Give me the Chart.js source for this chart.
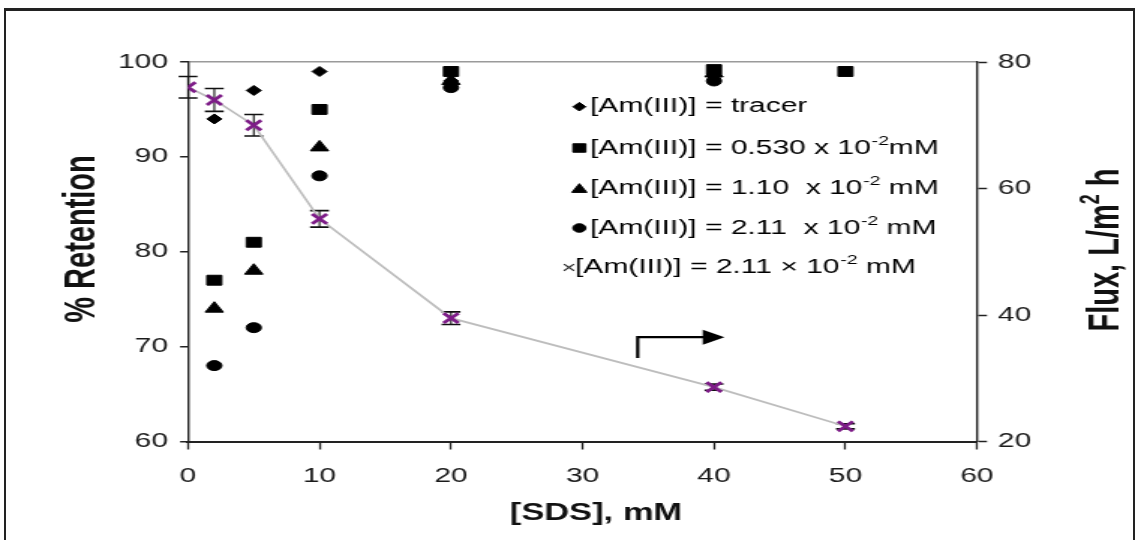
<!DOCTYPE html>
<html><head><meta charset="utf-8">
<script src="https://cdn.jsdelivr.net/npm/chart.js@4.4.0/dist/chart.umd.min.js"></script>
<style>
html,body{margin:0;padding:0;background:#fff;width:1138px;height:540px;overflow:hidden;}
#frame{position:absolute;left:4px;top:8px;width:1131px;height:600px;border-left:2px solid #222;border-top:3px solid #222;border-right:2px solid #222;box-sizing:border-box;}
#wrap{position:absolute;left:0;top:0;transform-origin:0 0;transform:scaleX(1.4993);}
</style></head><body>
<div id="frame"></div>
<div id="wrap"><canvas id="c" width="759" height="540"></canvas></div>
<script>
// ---------- data ----------
const sdsRet = [2, 5, 10, 20, 40];
const sdsRetLow = [2, 5, 10, 20, 40, 50];
const retTracer = [94, 97, 99, 98, 98.5];
const retLow = [77, 81, 95, 99, 99.2, 99];
const retMid = [74, 78, 91, 98, 98.8];
const retHigh = [68, 72, 88, 97.3, 98];
const sdsFlux = [0, 2, 5, 10, 20, 40, 50];
const flux = [76, 74, 70, 55.2, 39.5, 28.6, 22.4];
const fluxErr = [1.7, 1.8, 1.7, 1.3, 1.0, 0.5, 0.4];
const xTicks = [0, 10, 20, 30, 40, 50, 60];
const retTicks = [60, 70, 80, 90, 100];
const fluxTicks = [20, 40, 60, 80];
const arrowPath = [[34.2, 33.2], [34.2, 36.5], [40.8, 36.5]];
const legendRows = [
  ['rectRot', '[Am(III)] = tracer', '', ''],
  ['rect', '[Am(III)] = 0.530 x 10', '-2', 'mM'],
  ['triangle', '[Am(III)] = 1.10  x 10', '-2', ' mM'],
  ['circle', '[Am(III)] = 2.11  x 10', '-2', ' mM'],
  ['×', '[Am(III)] = 2.11 × 10', '-2', ' mM']
];
const xTitle = '[SDS], mM';
const yTitle = '% Retention';
const y1Title = ['Flux, L/m', '2', ' h'];

// ---------- chart ----------
const FAM = "'Liberation Sans', Arial, sans-serif";
Chart.defaults.font.family = FAM;
const pts = (xs, ys) => xs.map((x, i) => ({x: x, y: ys[i]}));

const extras = {
  id: 'extras',
  beforeDatasetsDraw(chart) {
    const ctx = chart.ctx, xs = chart.scales.x, y1 = chart.scales.y1;
    ctx.save();
    ctx.strokeStyle = '#111';
    sdsFlux.forEach((x, i) => {
      const px = xs.getPixelForValue(x);
      const t = y1.getPixelForValue(flux[i] + fluxErr[i]);
      const b = y1.getPixelForValue(flux[i] - fluxErr[i]);
      ctx.lineWidth = 1.1;
      ctx.beginPath(); ctx.moveTo(px, t); ctx.lineTo(px, b); ctx.stroke();
      ctx.lineWidth = 1.6;
      ctx.beginPath();
      ctx.moveTo(px - 6.3, t); ctx.lineTo(px + 6.3, t);
      ctx.moveTo(px - 6.3, b); ctx.lineTo(px + 6.3, b);
      ctx.stroke();
    });
    ctx.restore();
  },
  afterDatasetsDraw(chart) {
    const ctx = chart.ctx, xs = chart.scales.x, y1 = chart.scales.y1;
    const p = arrowPath.map(a => [xs.getPixelForValue(a[0]), y1.getPixelForValue(a[1])]);
    ctx.save();
    ctx.strokeStyle = '#000'; ctx.fillStyle = '#000'; ctx.lineWidth = 2.2;
    const tip = p[p.length - 1];
    ctx.beginPath();
    ctx.moveTo(p[0][0], p[0][1]);
    ctx.lineTo(p[1][0], p[1][1]);
    ctx.lineTo(tip[0] - 12, tip[1]);
    ctx.stroke();
    ctx.beginPath();
    ctx.moveTo(tip[0], tip[1]);
    ctx.lineTo(tip[0] - 14.5, tip[1] - 7.5);
    ctx.lineTo(tip[0] - 14.5, tip[1] + 7.5);
    ctx.closePath(); ctx.fill();
    ctx.restore();
  },
  afterDraw(chart) {
    const ctx = chart.ctx;
    ctx.save();
    // legend
    const rowsY = [106.7, 148, 188, 228, 267];
    const mX = 388.9, tX = 393.5;
    const radii = {rectRot: 4.3, rect: 6, triangle: 5.8, circle: 4.3};
    legendRows.forEach((r, i) => {
      const y = rowsY[i];
      ctx.fillStyle = '#000'; ctx.strokeStyle = '#000';
      let x = tX;
      if (r[0] === '×') {
        ctx.font = '17px ' + FAM; ctx.textBaseline = 'middle'; ctx.textAlign = 'left';
        ctx.fillStyle = '#333';
        ctx.fillText('×', 374.6, y + 1);
        ctx.fillStyle = '#000';
        x = 383.5;
      } else {
        Chart.helpers.drawPoint(ctx, {pointStyle: r[0], radius: radii[r[0]], rotation: 0, borderWidth: 1}, mX - 2.5, y + (r[0] === 'triangle' ? 1.5 : 0));
      }
      ctx.font = '20px ' + FAM; ctx.textBaseline = 'middle'; ctx.textAlign = 'left';
      ctx.fillText(r[1], x, y);
      x += ctx.measureText(r[1]).width;
      if (r[2]) {
        ctx.font = '13px ' + FAM;
        ctx.fillText(r[2], x + 0.5, y - 7);
        x += ctx.measureText(r[2]).width + 0.5;
        ctx.font = '20px ' + FAM;
        ctx.fillText(r[3], x, y);
      }
    });
    // axis titles
    ctx.fillStyle = '#111';
    ctx.textBaseline = 'middle'; ctx.textAlign = 'center';
    ctx.font = 'bold 23px ' + FAM;
    ctx.fillText(xTitle, 397.5, 514);
    ctx.save();
    ctx.translate(55.4, 239); ctx.rotate(-Math.PI / 2);
    ctx.font = 'bold 29px ' + FAM;
    ctx.fillText(yTitle, 0, 0);
    ctx.restore();
    ctx.save();
    ctx.translate(737.7, 250); ctx.rotate(-Math.PI / 2);
    ctx.font = 'bold 29px ' + FAM;
    const w0 = ctx.measureText(y1Title[0]).width;
    ctx.font = 'bold 18px ' + FAM;
    const w1 = ctx.measureText(y1Title[1]).width;
    ctx.font = 'bold 29px ' + FAM;
    const w2 = ctx.measureText(y1Title[2]).width;
    let sx = -(w0 + w1 + w2) / 2;
    ctx.textAlign = 'left';
    ctx.fillText(y1Title[0], sx, 0);
    ctx.font = 'bold 18px ' + FAM;
    ctx.fillText(y1Title[1], sx + w0, -10);
    ctx.font = 'bold 29px ' + FAM;
    ctx.fillText(y1Title[2], sx + w0 + w1, 0);
    ctx.restore();
    ctx.restore();
  }
};

const blk = '#000';
new Chart(document.getElementById('c'), {
  type: 'scatter',
  data: {
    datasets: [
      {label: '[Am(III)] = tracer', data: pts(sdsRet, retTracer), yAxisID: 'y', pointStyle: 'rectRot', pointRadius: 5, backgroundColor: blk, borderColor: blk, borderWidth: 1},
      {label: '[Am(III)] = 0.530 x 10-2 mM', data: pts(sdsRetLow, retLow), yAxisID: 'y', pointStyle: 'rect', pointRadius: 7, backgroundColor: blk, borderColor: blk, borderWidth: 1},
      {label: '[Am(III)] = 1.10 x 10-2 mM', data: pts(sdsRet, retMid), yAxisID: 'y', pointStyle: 'triangle', pointRadius: 7, backgroundColor: blk, borderColor: blk, borderWidth: 1},
      {label: '[Am(III)] = 2.11 x 10-2 mM', data: pts(sdsRet, retHigh), yAxisID: 'y', pointStyle: 'circle', pointRadius: 5, backgroundColor: blk, borderColor: blk, borderWidth: 1},
      {label: 'Flux', data: pts(sdsFlux, flux), yAxisID: 'y1', showLine: true, borderColor: '#bdbdbd', borderWidth: 1.7, tension: 0,
       pointStyle: 'crossRot', pointRadius: 7, pointBorderColor: '#7d1c87', pointBackgroundColor: '#7d1c87', pointBorderWidth: 2.8}
    ]
  },
  options: {
    responsive: false,
    animation: false,
    events: [],
    layout: {padding: {top: 62, left: 0, right: 0, bottom: 0}},
    plugins: {legend: {display: false}, tooltip: {enabled: false}},
    scales: {
      x: {
        type: 'linear', position: 'bottom', min: 0, max: 60,
        afterBuildTicks: s => { s.ticks = xTicks.map(v => ({value: v})); },
        afterFit: s => { s.height = 98.5; },
        grid: {drawOnChartArea: false, drawTicks: true, tickLength: 8, tickWidth: 1.3, tickColor: '#222'},
        border: {color: '#222', width: 2},
        ticks: {color: '#1a1a1a', font: {size: 20}, padding: 15, maxRotation: 0}
      },
      y: {
        type: 'linear', position: 'left', min: 60, max: 100,
        afterBuildTicks: s => { s.ticks = retTicks.map(v => ({value: v})); },
        afterFit: s => { s.width = 125.4; },
        grid: {drawOnChartArea: true, color: c => (c.tick && c.tick.value === 100) ? '#9a9a9a' : 'rgba(0,0,0,0)', lineWidth: 1.5, tickLength: 5.3, tickWidth: 1.5, tickColor: '#222'},
        border: {color: '#222', width: 1.4},
        ticks: {color: '#1a1a1a', font: {size: 20}, padding: 8}
      },
      y1: {
        type: 'linear', position: 'right', min: 20, max: 80,
        afterBuildTicks: s => { s.ticks = fluxTicks.map(v => ({value: v})); },
        afterFit: s => { s.width = 107.4; },
        grid: {drawOnChartArea: false, tickLength: 6.7, tickWidth: 1.5, tickColor: '#222'},
        border: {color: '#222', width: 1.4},
        ticks: {color: '#1a1a1a', font: {size: 20}, padding: 7.3}
      }
    }
  },
  plugins: [extras]
});
</script>
</body></html>
